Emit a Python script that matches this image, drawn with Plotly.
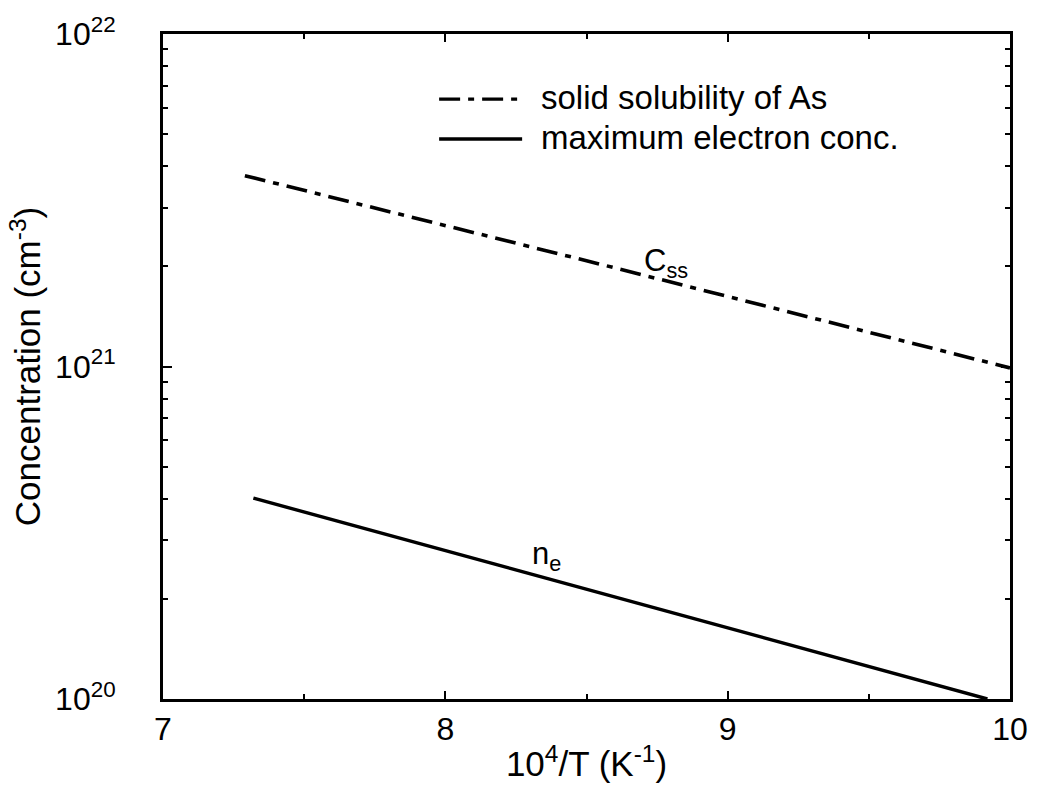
import plotly.graph_objects as go

# Data: x = 10^4/T (K^-1), y = concentration (cm^-3)
css_x = [7.29, 8.5, 10.0]
css_y = [3.75e21, 2.08e21, 9.9e20]
ne_x = [7.32, 8.5, 9.92]
ne_y = [4.02e20, 2.14e20, 1.0e20]

x_ticks = [7, 8, 9, 10]
y_ticks = [1e20, 1e21, 1e22]
y_ticktext = ["10<sup>20</sup>", "10<sup>21</sup>", "10<sup>22</sup>"]

FONT = "Liberation Sans, Arial, Helvetica, sans-serif"
DASHDOT = "21px,8px,6px,8px"

fig = go.Figure()
fig.add_trace(go.Scatter(x=css_x, y=css_y, mode="lines",
                         line=dict(color="black", width=3.6, dash=DASHDOT),
                         name="solid solubility of As", showlegend=False))
fig.add_trace(go.Scatter(x=ne_x, y=ne_y, mode="lines",
                         line=dict(color="black", width=3.4),
                         name="maximum electron conc.", showlegend=False))

# manual legend (line samples + text), in paper coordinates
legend_items = [("solid solubility of As", DASHDOT, 0.902),
                ("maximum electron conc.", "solid", 0.842)]
for label, dash, ypos in legend_items:
    fig.add_shape(type="line", xref="paper", yref="paper",
                  x0=0.326, x1=0.424, y0=ypos, y1=ypos,
                  line=dict(color="black", width=3.4, dash=dash))
    fig.add_annotation(xref="paper", yref="paper", x=0.444, y=ypos + 0.002,
                       text=label, showarrow=False, xanchor="left",
                       yanchor="middle", font=dict(size=33, family=FONT, color="black"))

fig.add_annotation(x=8.78, y=21.31, text="C<sub>ss</sub>", showarrow=False,
                   font=dict(size=31, family=FONT, color="black"))
fig.add_annotation(x=8.36, y=20.43, text="n<sub>e</sub>", showarrow=False,
                   font=dict(size=31, family=FONT, color="black"))

fig.update_layout(
    width=1040, height=794,
    margin=dict(l=163, r=27, t=33, b=95),
    paper_bgcolor="white", plot_bgcolor="white",
    font=dict(family=FONT, color="black", size=30),
)
fig.update_xaxes(range=[7, 10], tickvals=x_ticks, ticks="inside", ticklen=8,
                 tickwidth=2, tickcolor="black",
                 minor=dict(dtick=0.5, tick0=7, ticks="inside", ticklen=5,
                            tickwidth=1.5, tickcolor="black"),
                 showline=True, linecolor="black", linewidth=3, mirror="allticks",
                 showgrid=False, zeroline=False, ticklabelstandoff=0,
                 tickfont=dict(size=32, family=FONT),
                 title=dict(text="10<sup>4</sup>/T (K<sup>-1</sup>)",
                            font=dict(size=35, family=FONT), standoff=6))
fig.update_yaxes(type="log", range=[20, 22], tickvals=y_ticks, ticktext=y_ticktext,
                 ticks="inside", ticklen=9, tickwidth=2, tickcolor="black",
                 minor=dict(dtick="D1", ticks="inside", ticklen=5,
                            tickwidth=1.5, tickcolor="black"),
                 showline=True, linecolor="black", linewidth=3, mirror="allticks",
                 showgrid=False, zeroline=False, ticklabelstandoff=38,
                 tickfont=dict(size=32, family=FONT),
                 title=dict(text="Concentration (cm<sup>-3</sup>)",
                            font=dict(size=35, family=FONT), standoff=4))

fig.write_html("out.html")
